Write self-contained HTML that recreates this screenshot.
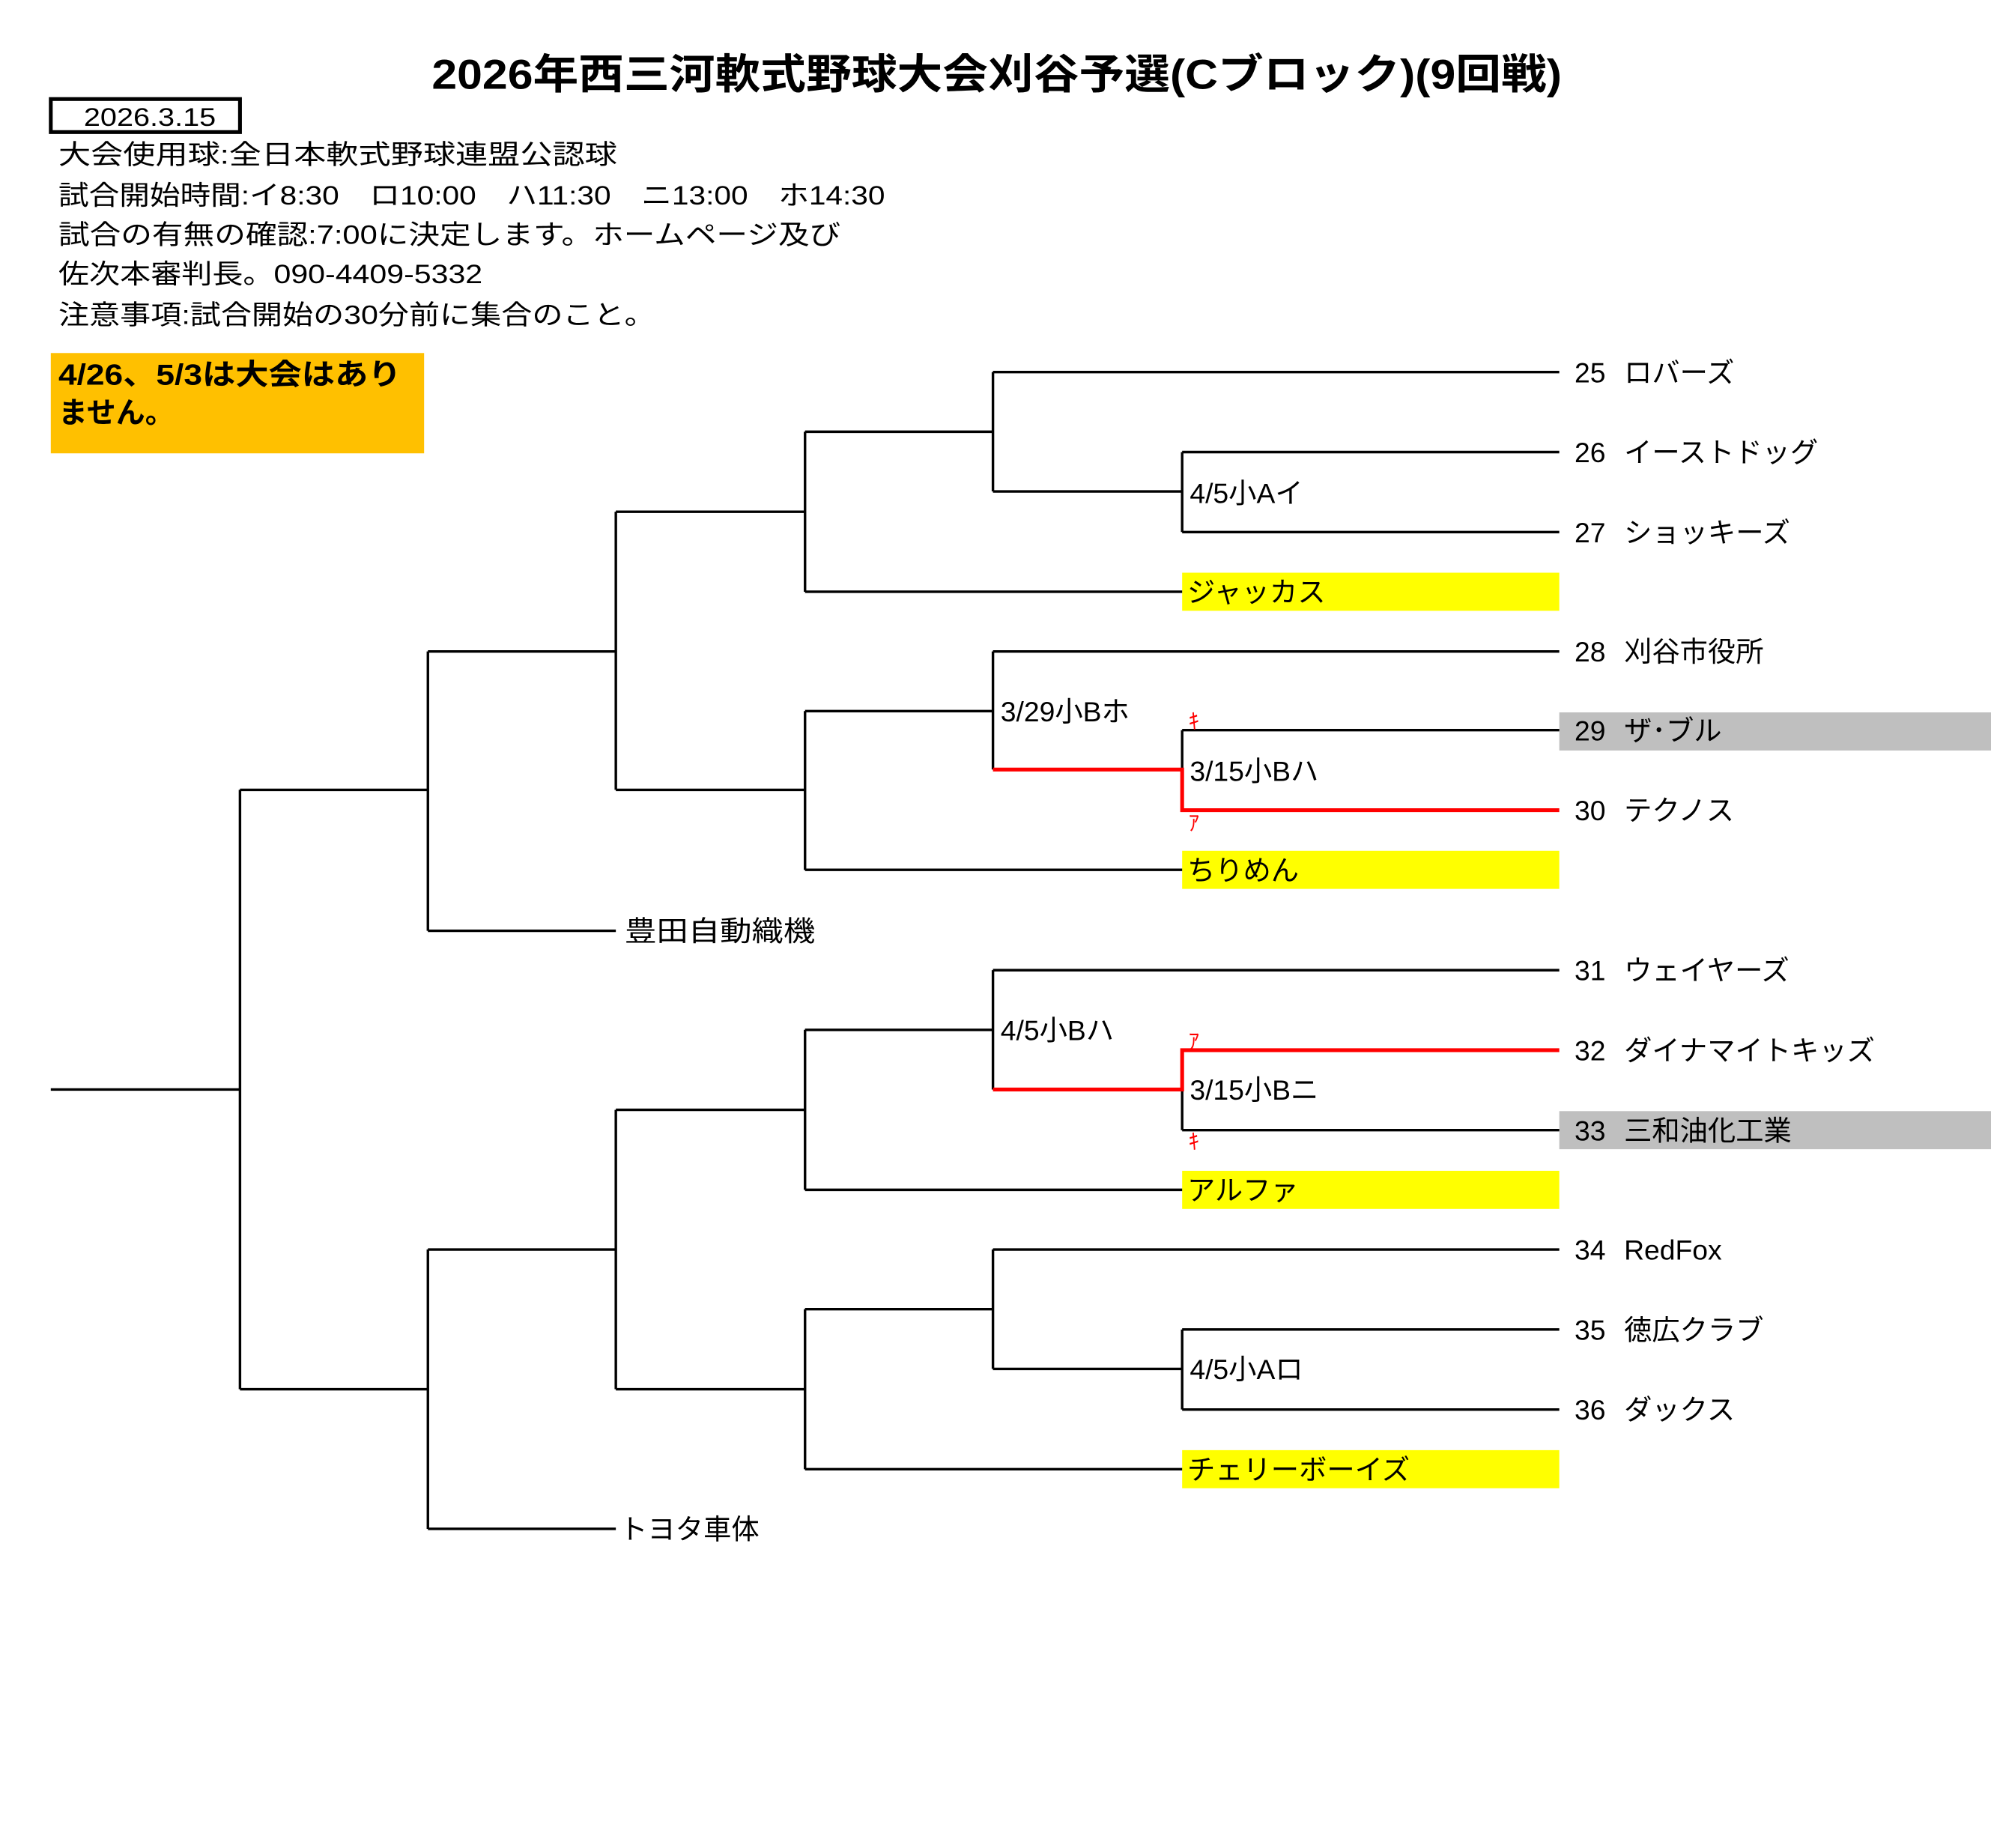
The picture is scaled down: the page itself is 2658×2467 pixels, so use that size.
<!DOCTYPE html>
<html><head><meta charset="utf-8"><style>
html,body{margin:0;padding:0;background:#fff;}
svg{display:block;}
text{font-family:"Liberation Sans","Noto Sans CJK JP",sans-serif;fill:#000;}
</style></head><body>
<svg width="2658" height="2467" viewBox="0 0 1568 1455.3" xmlns="http://www.w3.org/2000/svg">
<text x="785" y="70" font-size="33" font-weight="bold" text-anchor="middle" textLength="890" lengthAdjust="spacingAndGlyphs">2026年西三河軟式野球大会刈谷予選(Cブロック)(9回戦)</text>
<rect x="40" y="78" width="149" height="26" fill="#fff" stroke="#000" stroke-width="3"/>
<text x="118" y="99" font-size="20" text-anchor="middle" textLength="104" lengthAdjust="spacingAndGlyphs">2026.3.15</text>
<g font-size="21">
<text x="46" y="129" textLength="440" lengthAdjust="spacingAndGlyphs">大会使用球:全日本軟式野球連盟公認球</text>
<text x="46" y="161" textLength="651" lengthAdjust="spacingAndGlyphs">試合開始時間:イ8:30　ロ10:00　ハ11:30　ニ13:00　ホ14:30</text>
<text x="46" y="192" textLength="616" lengthAdjust="spacingAndGlyphs">試合の有無の確認:7:00に決定します。ホームページ及び</text>
<text x="46" y="223" textLength="334" lengthAdjust="spacingAndGlyphs">佐次本審判長。090-4409-5332</text>
<text x="46" y="255" textLength="470" lengthAdjust="spacingAndGlyphs">注意事項:試合開始の30分前に集合のこと。</text>
</g>
<rect x="40" y="278" width="294" height="79" fill="#FFC000"/>
<text x="46" y="303" font-size="23" font-weight="bold" textLength="270" lengthAdjust="spacingAndGlyphs">4/26、5/3は大会はあり</text>
<text x="46" y="333" font-size="23" font-weight="bold">ません。</text>

<g>
<rect x="931" y="451" width="297" height="30" fill="#FFFF00"/>
<rect x="931" y="670" width="297" height="30" fill="#FFFF00"/>
<rect x="931" y="922" width="297" height="30" fill="#FFFF00"/>
<rect x="931" y="1142" width="297" height="30" fill="#FFFF00"/>
<rect x="1228" y="561" width="340" height="30" fill="#BFBFBF"/>
<rect x="1228" y="875" width="340" height="30" fill="#BFBFBF"/>
</g>

<g stroke="#000" stroke-width="2" fill="none">
<path d="M782 293H1228 M931 356H1228 M931 419H1228 M931 356V419 M782 387H931 M782 293V387 M634 340H782 M634 466H931 M634 340V466 M485 403H634"/>
<path d="M782 513H1228 M931 575H1228 M931 575V606 M782 513V606 M634 560H782 M634 685H931 M634 560V685 M485 622H634 M485 403V622 M337 513H485 M337 733H485 M337 513V733 M189 622H337"/>
<path d="M782 764H1228 M931 858V890 M931 890H1228 M782 764V858 M634 811H782 M634 937H931 M634 811V937 M485 874H634"/>
<path d="M782 984H1228 M931 1047H1228 M931 1110H1228 M931 1047V1110 M782 1078H931 M782 984V1078 M634 1031H782 M634 1157H931 M634 1031V1157 M485 1094H634 M485 874V1094 M337 984H485 M337 1204H485 M337 984V1204 M189 1094H337 M189 622V1094 M40 858H189"/>
</g>
<g stroke="#FF0000" stroke-width="3" fill="none">
<path d="M782 606H931V638H1228"/>
<path d="M782 858H931V827H1228"/>
</g>
<g font-size="17">
<text x="936" y="574" style="fill:#f00">ｷ</text>
<text x="936" y="654" style="fill:#f00">ｱ</text>
<text x="936" y="826" style="fill:#f00">ｱ</text>
<text x="936" y="905" style="fill:#f00">ｷ</text>
</g>

<g font-size="22">
<text x="937" y="396">4/5小Aイ</text>
<text x="788" y="568">3/29小Bホ</text>
<text x="937" y="615">3/15小Bハ</text>
<text x="788" y="819">4/5小Bハ</text>
<text x="937" y="866">3/15小Bニ</text>
<text x="937" y="1086">4/5小Aロ</text>
<text x="935" y="474">ジャッカス</text>
<text x="935" y="693">ちりめん</text>
<text x="935" y="945">アルファ</text>
<text x="935" y="1165">チェリーボーイズ</text>
<text x="492" y="741" textLength="150" lengthAdjust="spacingAndGlyphs">豊田自動織機</text>
<text x="488" y="1212">トヨタ車体</text>
</g>
<g font-size="22">
<text x="1240" y="301">25</text><text x="1279" y="301">ロバーズ</text>
<text x="1240" y="364">26</text><text x="1279" y="364">イーストドッグ</text>
<text x="1240" y="427">27</text><text x="1279" y="427">ショッキーズ</text>
<text x="1240" y="521">28</text><text x="1279" y="521">刈谷市役所</text>
<text x="1240" y="583">29</text><text x="1279" y="583">ザ･ブル</text>
<text x="1240" y="646">30</text><text x="1279" y="646">テクノス</text>
<text x="1240" y="772">31</text><text x="1279" y="772">ウェイヤーズ</text>
<text x="1240" y="835">32</text><text x="1279" y="835">ダイナマイトキッズ</text>
<text x="1240" y="898">33</text><text x="1279" y="898">三和油化工業</text>
<text x="1240" y="992">34</text><text x="1279" y="992">RedFox</text>
<text x="1240" y="1055">35</text><text x="1279" y="1055">徳広クラブ</text>
<text x="1240" y="1118">36</text><text x="1279" y="1118">ダックス</text>
</g>
</svg>
</body></html>
